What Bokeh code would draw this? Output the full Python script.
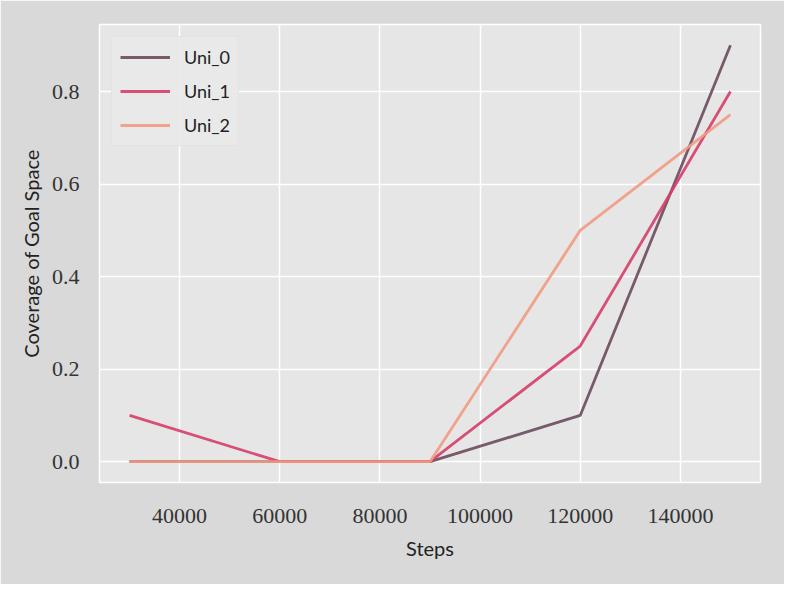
from bokeh.plotting import figure
from bokeh.embed import file_html
from bokeh.resources import INLINE
from bokeh.models import Range1d, FixedTicker, Legend, LegendItem

steps = [30000, 60000, 90000, 120000, 150000]
uni_0 = [0.0, 0.0, 0.0, 0.1, 0.9]
uni_1 = [0.1, 0.0, 0.0, 0.25, 0.8]
uni_2 = [0.0, 0.0, 0.0, 0.5, 0.75]
series_names = ["Uni_0", "Uni_1", "Uni_2"]
x_ticks = [40000, 60000, 80000, 100000, 120000, 140000]
y_ticks = [0.0, 0.2, 0.4, 0.6, 0.8]
colors = ["#6b4a5d", "#d63e68", "#f29a82"]

Y0, Y1 = -0.045, 0.945
p = figure(width=784, height=584, output_backend="svg", toolbar_location=None,
           x_range=Range1d(24000, 156000), y_range=Range1d(Y0, Y1),
           min_border_left=99, min_border_top=24, min_border_right=24, min_border_bottom=102)

p.background_fill_color = "#e6e6e6"
p.border_fill_color = "#d9d9d9"
p.outline_line_color = "white"
p.outline_line_width = 1.5

for ax in (p.xaxis[0], p.yaxis[0]):
    ax.axis_line_color = None
    ax.major_tick_line_color = None
    ax.minor_tick_line_color = None
    ax.major_label_text_font = "Liberation Serif"
    ax.major_label_text_font_size = "22px"
    ax.major_label_text_color = "#333333"
    ax.axis_label_text_font = "Lato"
    ax.axis_label_text_font_size = "20px"
    ax.axis_label_text_font_style = "normal"
    ax.axis_label_text_color = "#222222"

p.xaxis.ticker = FixedTicker(ticks=x_ticks)
p.yaxis.ticker = FixedTicker(ticks=y_ticks)
p.xaxis.major_label_orientation = "horizontal"
p.xaxis.major_label_overrides = {t: str(t) for t in x_ticks}
p.yaxis.major_label_overrides = {t: f"{t:.1f}" for t in y_ticks}
p.xaxis.axis_label = "Steps"
p.yaxis.axis_label = "Coverage of Goal Space"
p.xaxis.major_label_standoff = 20
p.yaxis.major_label_standoff = 14
p.xaxis.axis_label_standoff = 10
p.yaxis.axis_label_standoff = 6

p.xgrid.grid_line_color = "white"
p.ygrid.grid_line_color = "white"
p.xgrid.grid_line_width = 1.5
p.ygrid.grid_line_width = 1.5

items = []
for name, ys, c in zip(series_names, [uni_0, uni_1, uni_2], colors):
    r = p.line(steps, ys, line_color=c, line_width=2.8, line_alpha=0.9)
    items.append(LegendItem(label=name, renderers=[r]))

legend = Legend(items=items, location="top_left")
legend.background_fill_color = "#e9e9e9"
legend.background_fill_alpha = 0.9
legend.border_line_color = "#dddddd"
legend.label_text_font = "Lato"
legend.label_text_font_size = "18px"
legend.label_text_color = "#222222"
legend.glyph_width = 50
legend.glyph_height = 24
legend.spacing = 10
legend.padding = 8
legend.margin = 12
legend.label_standoff = 14
p.add_layout(legend)

open("out.html", "w").write(file_html(p, INLINE))
